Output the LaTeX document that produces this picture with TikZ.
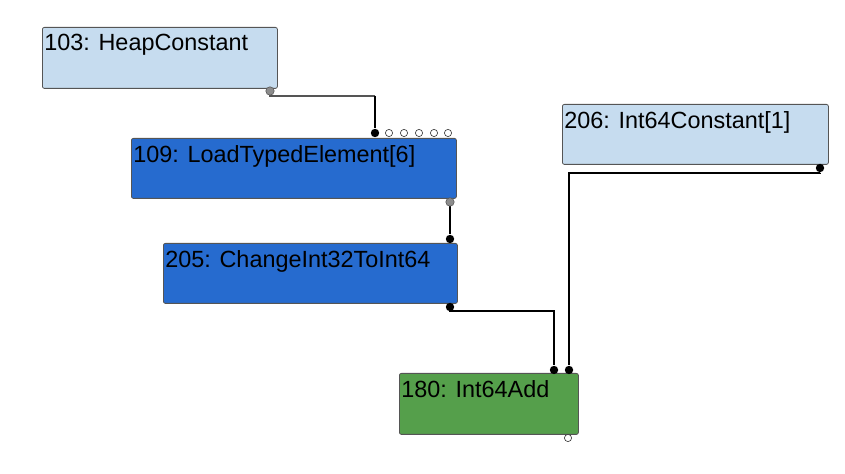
\documentclass[tikz,border=0pt]{standalone}
\usepackage{fontspec}
\setmainfont{Liberation Sans}
\usepackage{tikz}
\usetikzlibrary{positioning,calc}

\definecolor{constblue}{HTML}{C6DCEF}
\definecolor{opblue}{HTML}{266BCF}
\definecolor{addgreen}{HTML}{559F4B}
\definecolor{edgegray}{HTML}{555555}

\begin{document}
\begin{tikzpicture}[
  x=0.5pt, y=-0.5pt, font=\fontsize{11.7pt}{13pt}\selectfont,
  box/.style={draw=edgegray, rounded corners=1pt, anchor=north west,
              inner sep=0pt, line width=0.4pt},
  cst/.style={box, fill=constblue},
  opb/.style={box, fill=opblue},
  add/.style={box, fill=addgreen},
  lbl/.style={anchor=north west, inner xsep=1pt, inner ysep=3.6pt},
  pin/.style={circle, inner sep=0pt, minimum size=4.2pt, fill=black},
  gpin/.style={pin, fill=gray!90, draw=gray!70!black, line width=0.3pt},
  opin/.style={circle, inner sep=0pt, minimum size=3.6pt, draw=black!80,
               fill=white, line width=0.3pt},
  wire/.style={black, line width=0.55pt},
]
\useasboundingbox (0,0) rectangle (845,474);

% operation boxes
\node[cst, minimum width=117.5pt, minimum height=30.5pt] (n103) at (42,27)  {};
\node[opb, minimum width=162.5pt, minimum height=30pt]   (n109) at (131,138) {};
\node[opb, minimum width=147pt,   minimum height=30pt]   (n205) at (163,243) {};
\node[cst, minimum width=133pt,   minimum height=30pt]   (n206) at (562,104) {};
\node[add, minimum width=89.5pt,  minimum height=30.5pt] (n180) at (399,373) {};

\node[lbl] at (n103.north west) {103: HeapConstant};
\node[lbl] at (n109.north west) {109: LoadTypedElement[6]};
\node[lbl] at (n205.north west) {205: ChangeInt32ToInt64};
\node[lbl] at (n206.north west) {206: Int64Constant[1]};
\node[lbl] at (n180.north west) {180: Int64Add};

% ports
\node[pin]  (i109) at (375,133) {};
\foreach \x in {389,404,419,434,448}
  \node[opin] at (\x,133) {};
\node[pin]  (i205) at (450,239) {};
\node[pin]  (o205) at (450,307) {};
\node[pin]  (o206) at (820,168) {};
\node[pin]  (a180) at (554,370) {};
\node[pin]  (b180) at (569,370) {};
\node[opin] (o180) at (568,438) {};

% wires
\draw[wire, edgegray] (270,91) -- (270,96) -- (375,96);
\draw[wire] (375,96) -- (i109);
\draw[wire] (450,202) -- (i205);
\draw[wire] (o205) -- ++(0,4) -| (a180);
\draw[wire] (o206) -- ++(0,5) -| (b180);

% gray output ports on top of wires
\node[gpin] (o103) at (270,91) {};
\node[gpin] (o109) at (450,202) {};
\end{tikzpicture}
\end{document}
